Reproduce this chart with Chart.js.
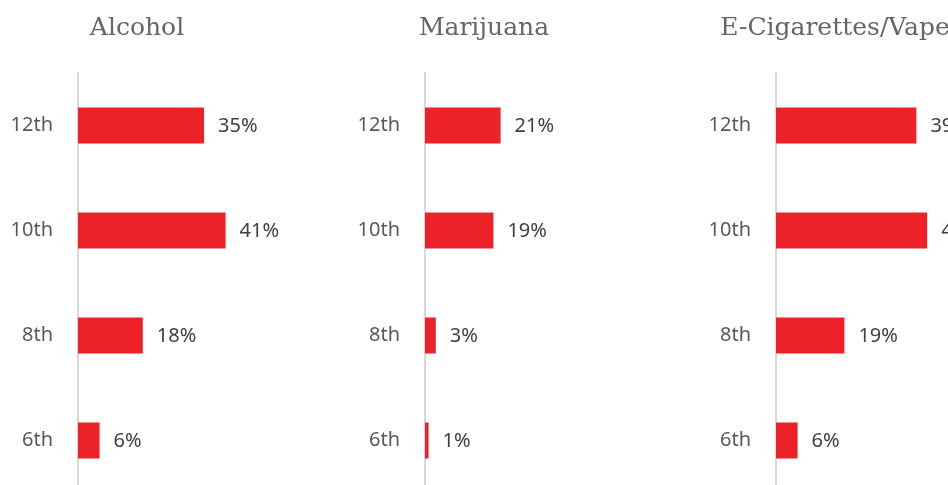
<!DOCTYPE html>
<html>
<head>
<meta charset="utf-8">
<script src="https://cdn.jsdelivr.net/npm/chart.js@4"></script>
<style>
  html, body { margin: 0; padding: 0; background: #fff; overflow: hidden; width: 948px; height: 485px; }
  canvas { position: absolute; top: 0; }
</style>
</head>
<body>
<canvas id="c0" width="348" height="530" style="left:0px"></canvas>
<canvas id="c1" width="348" height="530" style="left:347px"></canvas>
<canvas id="c2" width="348" height="530" style="left:698px"></canvas>
<script>
// grades, top to bottom
const grades = ["12th", "10th", "8th", "6th"];

const titles = ["Alcohol", "Marijuana", "E-Cigarettes/Vape"];

// percent of students, per grade
const alcohol = [35, 41, 18, 6];
const marijuana = [21, 19, 3, 1];
const vape = [39, 42, 19, 6];

const allSeries = [alcohol, marijuana, vape];

const barColor = "#ED2229";

// draws the % labels next to the bars and the panel title
const barLabels = {
  id: "barLabels",
  afterDatasetsDraw(chart, args, opts) {
    const ctx = chart.ctx;
    const meta = chart.getDatasetMeta(0);
    const values = chart.data.datasets[0].data;
    ctx.save();
    ctx.font = '20px "Noto Sans"';
    ctx.fillStyle = "#404040";
    ctx.textBaseline = "middle";
    ctx.textAlign = "left";
    meta.data.forEach((bar, i) => {
      ctx.fillText(values[i] + "%", bar.x + 14, bar.y + 1);
    });
    ctx.font = '25px "DejaVu Serif"';
    ctx.fillStyle = "#666666";
    ctx.textAlign = "center";
    ctx.textBaseline = "alphabetic";
    ctx.fillText(opts.title, chart.chartArea.left + 59, 35);
    ctx.restore();
  }
};

allSeries.forEach((series, n) => {
  new Chart(document.getElementById("c" + n), {
    type: "bar",
    data: {
      labels: grades,
      datasets: [{
        data: series,
        backgroundColor: barColor,
        barPercentage: 0.343,
        categoryPercentage: 1
      }]
    },
    options: {
      indexAxis: "y",
      responsive: false,
      animation: false,
      layout: { padding: { top: 73, bottom: 7, left: 0, right: 0 } },
      plugins: {
        legend: { display: false },
        tooltip: { enabled: false },
        barLabels: { title: titles[n] }
      },
      scales: {
        x: { display: false, min: 0, max: 75 },
        y: {
          afterFit: scale => { scale.width = 78; },
          grid: { display: false, drawTicks: false },
          border: { display: true, color: "#d9d9d9", width: 2 },
          ticks: {
            padding: 25,
            color: "#595959",
            font: { family: "Noto Sans", size: 20 }
          }
        }
      }
    },
    plugins: [barLabels]
  });
});
</script>
</body>
</html>
